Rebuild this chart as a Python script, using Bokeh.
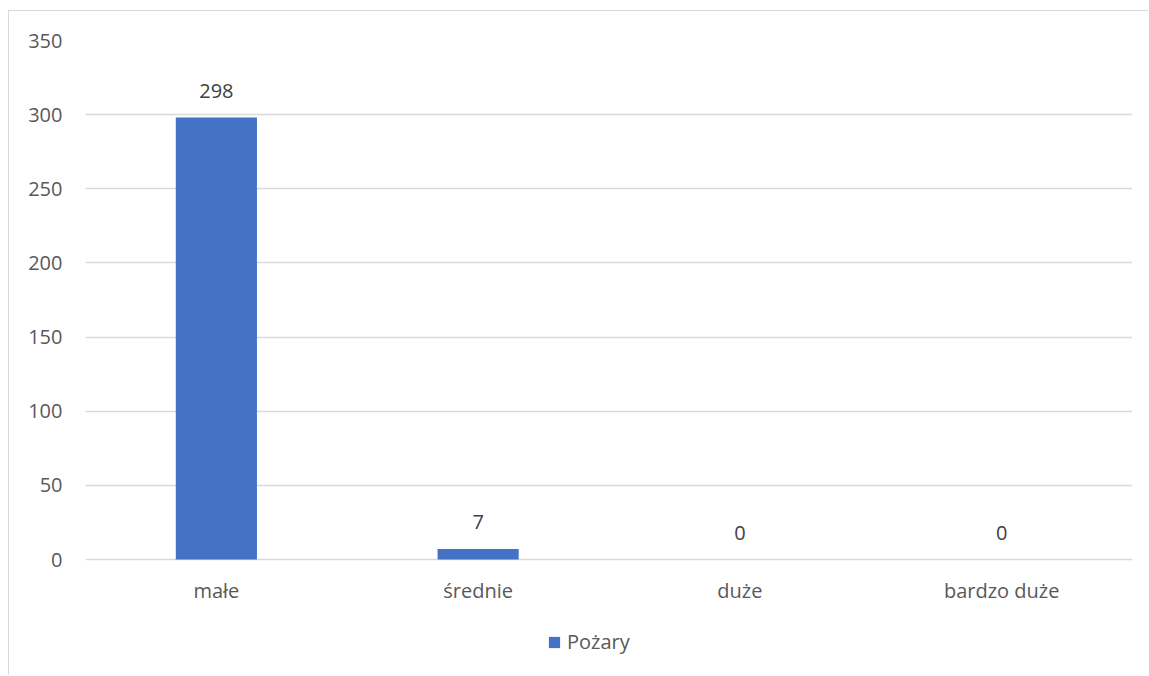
from bokeh.plotting import figure
from bokeh.models import ColumnDataSource, LabelSet, Legend, LegendItem, FactorRange, Range1d, FixedTicker
from bokeh.core.properties import value
from bokeh.embed import file_html
from bokeh.resources import INLINE

categories = ["małe", "średnie", "duże", "bardzo duże"]
values = [298, 7, 0, 0]
series_name = "Pożary"
y_ticks = [0, 50, 100, 150, 200, 250, 300, 350]

FONT = "Open Sans"
BAR = "#4472C4"
GRID = "#d9d9d9"
TXT = "#595959"

src = ColumnDataSource(dict(cat=categories, val=values, lab=[str(v) for v in values],
                            zero=[0] * len(categories)))

# frame extends below zero to make room for the category labels and legend
y_bottom = -78.9
p = figure(x_range=FactorRange(*categories, range_padding=0), y_range=Range1d(y_bottom, 350),
           width=1140, height=665, output_backend="svg", toolbar_location=None,
           min_border_left=76, min_border_right=17, min_border_top=29, min_border_bottom=0)
p.styles = {"border-left": "1px solid #d9d9d9", "border-top": "1px solid #d9d9d9",
            "margin-top": "10px", "margin-left": "8px"}
p.outline_line_color = None

r = p.vbar(x="cat", top="val", width=0.31, source=src, fill_color=BAR, line_color=None)

p.yaxis.ticker = FixedTicker(ticks=y_ticks)
p.yaxis.axis_line_color = None
p.yaxis.major_tick_line_color = None
p.yaxis.minor_tick_line_color = None
p.yaxis.major_tick_out = 0
p.yaxis.major_label_standoff = 23
p.yaxis.major_label_text_font = FONT
p.yaxis.major_label_text_font_size = "20px"
p.yaxis.major_label_text_color = TXT

p.xaxis.visible = False
p.xgrid.grid_line_color = None
p.ygrid.grid_line_color = GRID
p.ygrid.grid_line_width = 1.5

labels = LabelSet(x="cat", y="val", text="lab", source=src, text_align="center",
                  text_baseline="middle", y_offset=27, text_font=value(FONT),
                  text_font_size=value("20px"), text_color=value("#404040"))
p.add_layout(labels)

cat_labels = LabelSet(x="cat", y="zero", text="cat", source=src, text_align="center",
                      text_baseline="middle", y_offset=-31, text_font=value(FONT),
                      text_font_size=value("20px"), text_color=value(TXT))
p.add_layout(cat_labels)

legend = Legend(items=[LegendItem(label=series_name, renderers=[r])],
                location=(462, 21), orientation="horizontal",
                padding=0, margin=0, border_line_color=None, background_fill_alpha=0,
                glyph_width=14, glyph_height=14, label_standoff=6,
                label_text_font=FONT, label_text_font_size="20px", label_text_color=TXT)
p.add_layout(legend, "center")

open("out.html", "w").write(file_html(p, INLINE))
